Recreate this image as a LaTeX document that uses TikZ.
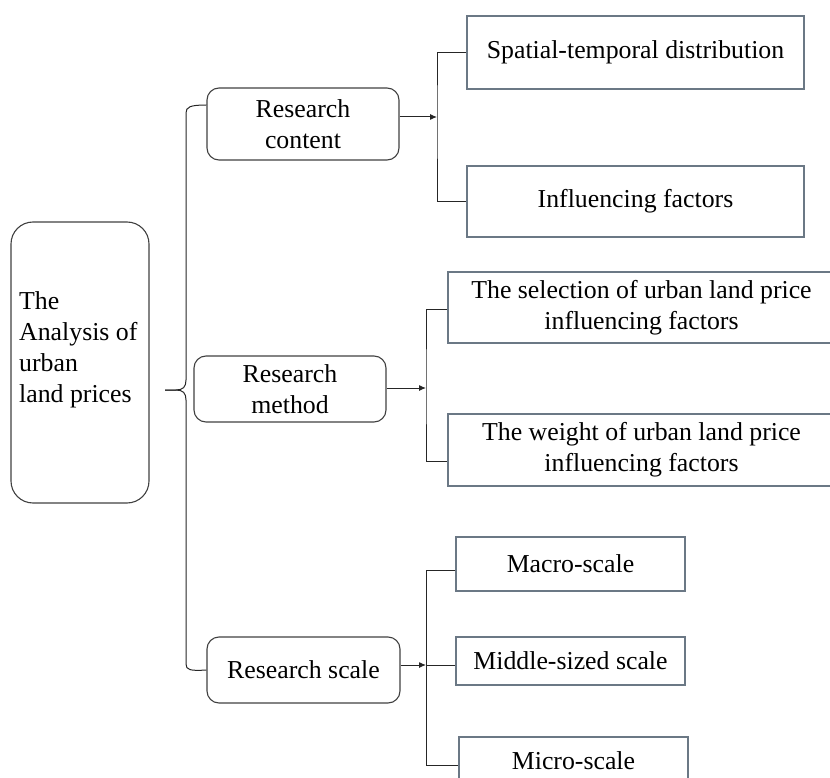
\documentclass[tikz,border=0pt]{standalone}
\usepackage{fontspec}
\setmainfont{Liberation Serif}
\usetikzlibrary{arrows.meta,calc}
\definecolor{boxgray}{HTML}{6B7885}
\definecolor{rbgray}{HTML}{404040}
\begin{document}
\begin{tikzpicture}[x=1pt,y=-1pt,
  txt/.style={font=\fontsize{25.8}{31}\selectfont},
  rbox/.style={txt, draw=rbgray, line width=1.1pt, rounded corners=12pt, inner sep=0pt, align=center},
  sbox/.style={txt, draw=boxgray, line width=1.1pt, inner sep=0pt, align=center},
  conn/.style={line width=1pt, draw=black!85},
  arr/.style={conn, -{Latex[length=7pt,width=6pt]}}]
\useasboundingbox (0,0) rectangle (830,778);

% main box
\node[draw=rbgray, line width=1.1pt, rounded corners=22pt, minimum width=138pt, minimum height=281pt, inner sep=0pt] (main) at (80,362.5) {};
\node[txt, align=left, anchor=west, inner sep=0pt] (maintext) at (19,350) {The\\Analysis of\\urban\\land prices};

% second level
\node[rbox, minimum width=192pt, minimum height=72pt] (rc) at (303,124) {Research\\content};
\node[rbox, minimum width=192pt, minimum height=66pt] (rm) at (290,389) {Research\\method};
\node[rbox, minimum width=193pt, minimum height=66pt] (rs) at (303.5,670) {Research scale};

% third level
\node[sbox, minimum width=337pt, minimum height=73pt] (sp) at (635.5,52.5) {Spatial-temporal distribution};
\node[sbox, minimum width=337pt, minimum height=71pt] (inf) at (635.5,201.5) {Influencing factors};
\node[sbox, minimum width=387pt, minimum height=71pt] (sel) at (641.5,307.5) {The selection of urban land price\\influencing factors};
\node[sbox, minimum width=387pt, minimum height=72pt] (wt) at (641.5,450) {The weight of urban land price\\influencing factors};
\node[sbox, minimum width=229pt, minimum height=54pt] (mac) at (570.5,564) {Macro-scale};
\node[sbox, minimum width=229pt, minimum height=48pt] (mid) at (570.5,661) {Middle-sized scale};
\node[sbox, minimum width=229pt, minimum height=48pt] (mic) at (573.5,761) {Micro-scale};

% brace
\coordinate (tip) at (165,390);
\draw[conn] (tip) -- (176,390) .. controls (183,390) and (186,387) .. (186,380)
  -- (186,113) .. controls (186,107) and (190,105) .. (rc.west |- 0,105);
\draw[conn] (tip) -- (176,390) .. controls (183,390) and (186,393) .. (186,400)
  -- (186,664) .. controls (186,670) and (190,671) .. (rs.west);

% research content
\coordinate (j1) at (437,117);
\draw[arr] (rc.east |- j1) -- (j1);
\draw[conn] (sp.west) -| (j1) |- (inf.west);

% research method
\coordinate (j2) at (426,388);
\draw[arr] (rm.east |- j2) -- (j2);
\draw[conn] (sel.west |- 0,309) -| (j2) |- (wt.west |- 0,461);

% research scale
\coordinate (j3) at (426,665);
\draw[arr] (rs.east |- j3) -- (j3);
\draw[conn] (mac.west |- 0,570) -| (426,765) -- (mic.west |- 0,765);
\draw[conn] (j3) -- (mid.west |- j3);
\end{tikzpicture}
\end{document}
